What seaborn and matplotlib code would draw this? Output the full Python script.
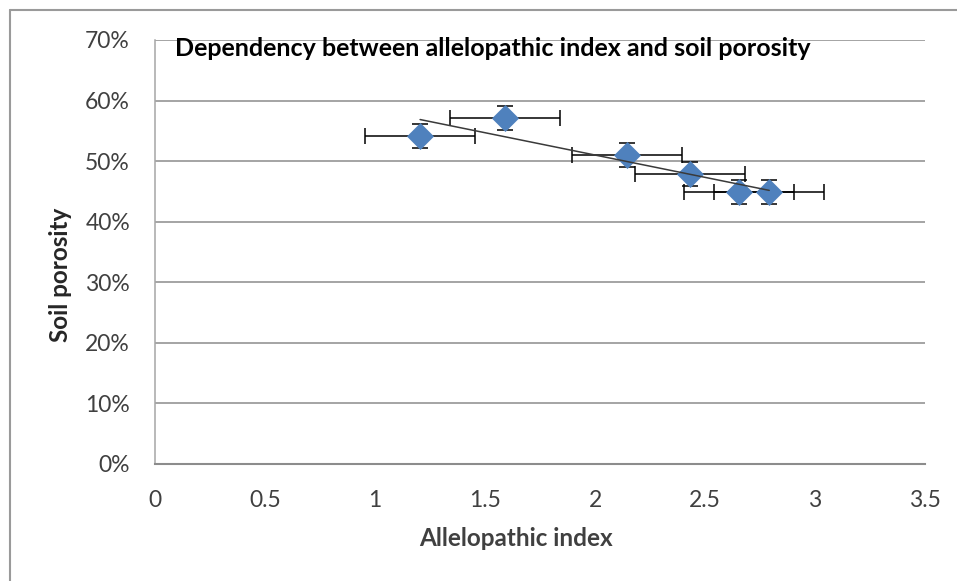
import numpy as np
import pandas as pd
import seaborn as sns
import matplotlib.pyplot as plt
from matplotlib.ticker import PercentFormatter
from matplotlib.lines import Line2D

sns.set_theme(style="whitegrid")
plt.rcParams["font.family"] = ["Lato", "DejaVu Sans"]

# values
allelopathic_index = [1.205, 1.59, 2.147, 2.432, 2.656, 2.792]
soil_porosity = [54.2, 57.1, 51.0, 47.9, 44.9, 44.9]
x_error = [0.25, 0.25, 0.25, 0.25, 0.25, 0.25]
y_error = [2.0, 2.0, 2.0, 2.0, 2.0, 2.0]
x_ticks = [0, 0.5, 1, 1.5, 2, 2.5, 3, 3.5]
x_tick_labels = ["0", "0.5", "1", "1.5", "2", "2.5", "3", "3.5"]
y_ticks = [0, 10, 20, 30, 40, 50, 60, 70]

df = pd.DataFrame({"index": allelopathic_index, "porosity": soil_porosity})

fig = plt.figure(figsize=(9.57, 5.81), dpi=100)
ax = fig.add_axes([155 / 957, 1 - 464 / 581, 770 / 957, 424 / 581])

ax.errorbar(
    df["index"], df["porosity"], xerr=x_error, yerr=y_error,
    fmt="none", ecolor="black", elinewidth=1.1, capsize=6, capthick=1.1, zorder=2,
)
sns.scatterplot(
    data=df, x="index", y="porosity", marker="D", s=190,
    color="#4F81BD", edgecolor="#4F81BD", linewidth=0, ax=ax, zorder=3,
)
sns.regplot(
    data=df, x="index", y="porosity", scatter=False, ci=None, truncate=True,
    line_kws={"color": "#3a3a3a", "linewidth": 1.1, "zorder": 4}, ax=ax,
)

ax.set_xlim(0, 3.5)
ax.set_ylim(0, 70)
ax.set_xticks(x_ticks)
ax.set_xticklabels(x_tick_labels)
ax.set_yticks(y_ticks)
ax.yaxis.set_major_formatter(PercentFormatter(decimals=0))

ax.grid(axis="y", color="#8c8c8c", linewidth=1.1)
ax.grid(axis="x", visible=False)
for side in ["top", "right"]:
    ax.spines[side].set_visible(False)
ax.spines["left"].set_color("#a6a6a6")
ax.spines["bottom"].set_color("#8c8c8c")
ax.spines["left"].set_linewidth(1.1)
ax.spines["bottom"].set_linewidth(1.5)
ax.tick_params(axis="both", direction="out", length=5, width=1, color="#8c8c8c",
               labelsize=16.5, labelcolor="#404040")
ax.tick_params(axis="y", pad=13)
ax.tick_params(axis="x", pad=14)

ax.set_xlabel("Allelopathic index", fontsize=17.5, fontweight="bold", color="#404040")
ax.set_ylabel("Soil porosity", fontsize=17.5, fontweight="bold", color="#262626")
ax.xaxis.set_label_coords((516 - 155) / 770, -(538 - 464) / 424)
ax.yaxis.set_label_coords(-(155 - 60) / 770, (464 - 275) / 424)
ax.xaxis.label.set_va("center")
ax.yaxis.label.set_va("center")

ax.text(175 / 957, 1 - 48 / 581, "Dependency between allelopathic index and soil porosity",
        transform=fig.transFigure, fontsize=18, fontweight="bold", color="black",
        ha="left", va="center")

# chart frame (top and left edges)
fig.add_artist(Line2D([10 / 957, 10 / 957], [0, 1 - 10 / 581], transform=fig.transFigure,
                      color="#9a9a9a", linewidth=1.5))
fig.add_artist(Line2D([10 / 957, 1], [1 - 10 / 581, 1 - 10 / 581], transform=fig.transFigure,
                      color="#9a9a9a", linewidth=1.5))

fig.savefig("out.png", dpi=100)
